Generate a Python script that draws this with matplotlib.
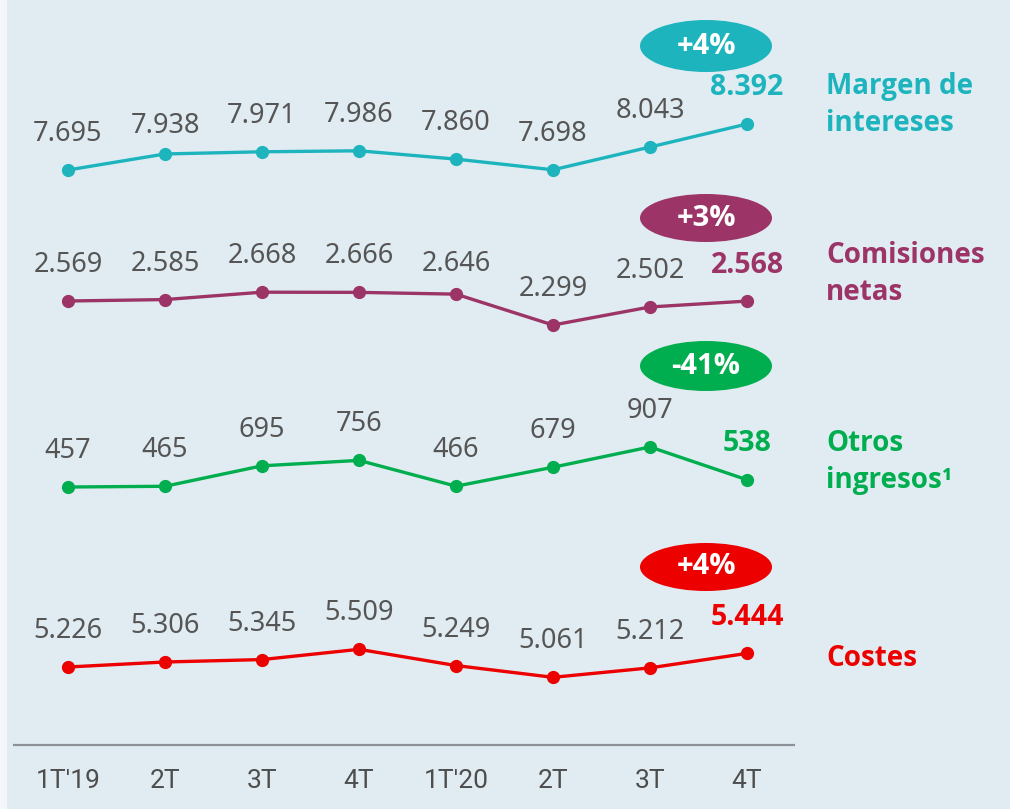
import matplotlib
matplotlib.use("Agg")
import matplotlib.pyplot as plt
from matplotlib.patches import Ellipse, Rectangle

plt.rcParams['font.family'] = ['Noto Sans', 'DejaVu Sans']
BOLD = ['Open Sans', 'Lato', 'DejaVu Sans']

quarters = ["1T'19", "2T", "3T", "4T", "1T'20", "2T", "3T", "4T"]
margen = [7.695, 7.938, 7.971, 7.986, 7.860, 7.698, 8.043, 8.392]
comisiones = [2.569, 2.585, 2.668, 2.666, 2.646, 2.299, 2.502, 2.568]
otros = [457, 465, 695, 756, 466, 679, 907, 538]
costes = [5.226, 5.306, 5.345, 5.509, 5.249, 5.061, 5.212, 5.444]
names = ["Margen de\nintereses", "Comisiones\nnetas", "Otros\ningresos¹", "Costes"]
changes = ["+4%", "+3%", "-41%", "+4%"]

W, H = 1010, 809
fig = plt.figure(figsize=(W / 100, H / 100), dpi=100)
fig.patch.set_facecolor('#f4f7f9')

# pixel-space base axes
base = fig.add_axes([0, 0, 1, 1])
base.set_xlim(0, W)
base.set_ylim(H, 0)
base.axis('off')
base.add_patch(Rectangle((7, 0), W - 7, H, facecolor='#e0ecf2', edgecolor='none'))

# x mapping: index 0 at px 68, step 97 px
x0, dx = 68, 97
xl = (-x0 / dx, (W - x0) / dx)

# category axis
cat = fig.add_axes([0, 0, 1, 1], facecolor='none')
cat.set_xlim(*xl)
cat.set_ylim(H, 0)
cat.axis('off')
cat.plot([(13 - x0) / dx, (795 - x0) / dx], [745, 745], color='#8c9296', lw=1.6, solid_capstyle='butt')
for i, q in enumerate(quarters):
    cat.text(i, 781, q, ha='center', va='center', fontsize=19, color='#4d4d4d',
             family=['Roboto', 'DejaVu Sans'])

series = [
    # values, color, ref point (value, pixel y), px per unit, badge center y, badge h, name y, decimals
    (margen, '#1db4bd', (7.695, 170), 66.0, 46, 52, 105, 3),
    (comisiones, '#9c3467', (2.569, 301), 89.0, 218, 48, 274, 3),
    (otros, '#00ae4f', (457, 487), 0.089, 366, 50, 462, 0),
    (costes, '#ec0000', (5.226, 667), 62.5, 567, 48, 658, 3),
]
label_off = 36  # pixels above the point

for k, (vals, col, (vref, pref), ppu, by, bh, ny, dec) in enumerate(series):
    ax = fig.add_axes([0, 0, 1, 1], facecolor='none')
    ax.set_xlim(*xl)
    top = vref + pref / ppu
    bottom = vref - (H - pref) / ppu
    ax.set_ylim(bottom, top)
    ax.axis('off')
    xs = list(range(len(vals)))
    ax.plot(xs, vals, color=col, lw=2.4, marker='o', markersize=8.5, zorder=3)
    for i, v in enumerate(vals):
        s = f"{v:.3f}" if dec else f"{v:d}"
        last = i == len(vals) - 1
        off = label_off
        if k == 0 and i == 1:
            off = 28
        if k == 1 and i == 4:
            off = 30
        if last:
            ax.annotate(s, (i, v), xytext=(0, off), textcoords='offset pixels',
                        ha='center', va='center', fontsize=20.5,
                        color=col, fontweight='bold', family=BOLD)
        else:
            ax.annotate(s, (i, v), xytext=(0, off), textcoords='offset pixels',
                        ha='center', va='center', fontsize=19.5, color='#555555')
    # badge
    base.add_patch(Ellipse((706, by), 132, bh, facecolor=col, edgecolor='none'))
    base.text(706, by, changes[k], ha='center', va='center', fontsize=21,
              color='white', fontweight='bold', family=BOLD)
    base.text(826, ny, names[k], ha='left', va='center', fontsize=20,
              color=col, fontweight='bold', family=BOLD, linespacing=1.38)

fig.savefig('out.png', dpi=100, facecolor=fig.get_facecolor())
